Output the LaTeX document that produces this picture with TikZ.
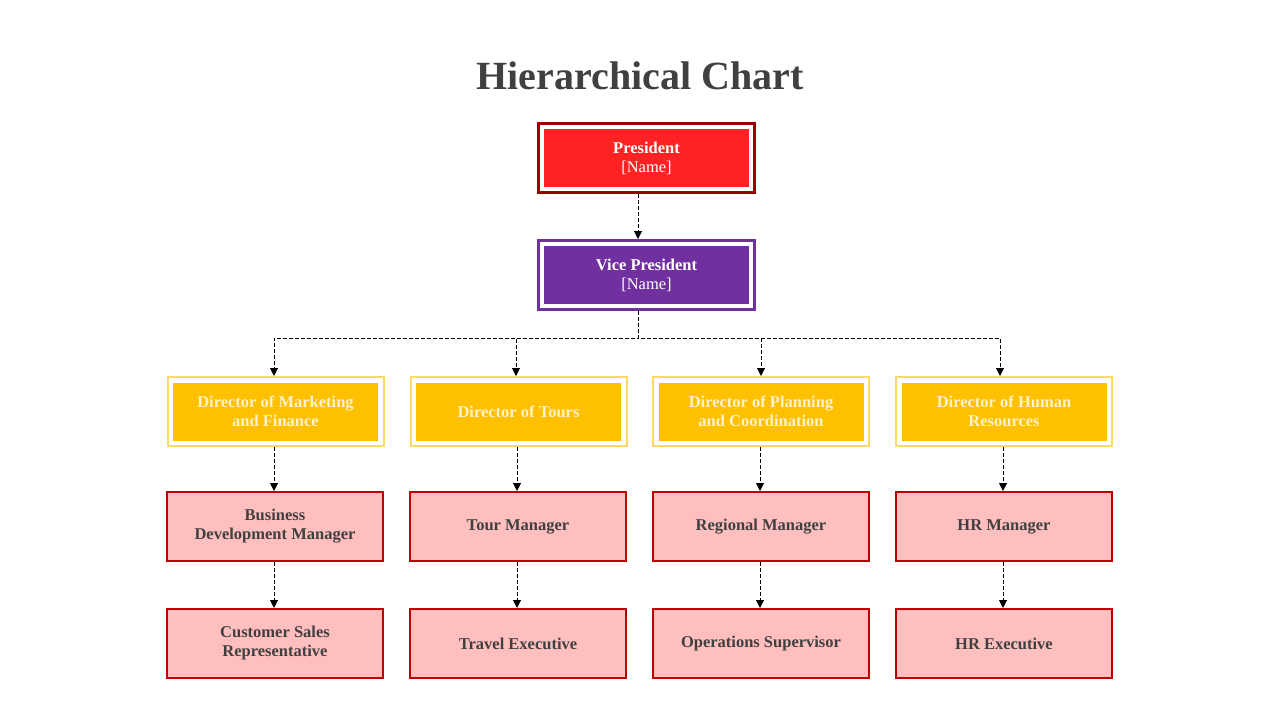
\documentclass[tikz,border=0pt]{standalone}
\usepackage{fontspec}
\setmainfont{Liberation Serif}
\usetikzlibrary{arrows.meta,calc}
\definecolor{titlegray}{HTML}{404040}
\definecolor{presred}{HTML}{FF2222}
\definecolor{presframe}{HTML}{990000}
\definecolor{vppurple}{HTML}{7030A0}
\definecolor{dirfill}{HTML}{FFC000}
\definecolor{dirframe}{HTML}{FFD966}
\definecolor{staffill}{HTML}{FFBFBF}
\definecolor{staffborder}{HTML}{C00000}
\definecolor{dirtext}{HTML}{FFF2CC}
\begin{document}
\begin{tikzpicture}[x=1pt,y=-1pt,
  boxfont/.style={font=\fontsize{16.5}{19}\selectfont},
  framed/.style 2 args={draw=#1, fill=white, line width=3pt,
    minimum width=216pt, minimum height=69pt, inner sep=0pt, align=center,
    path picture={\fill[#2] ([shift={(5.5pt,5.5pt)}]path picture bounding box.south west)
      rectangle ([shift={(-5.5pt,-5.5pt)}]path picture bounding box.north east);}},
  topbox/.style 2 args={framed={#1}{#2}, boxfont, text=white},
  dirbox/.style={framed={dirframe}{dirfill}, line width=2pt, boxfont, text=dirtext},
  staffbox/.style={draw=staffborder, fill=staffill, line width=2pt,
    minimum width=216pt, minimum height=69pt, inner sep=0pt, align=center,
    boxfont, text=titlegray},
  link/.style={draw=black, line width=1pt, dash pattern=on 4pt off 2pt,
    -{Triangle[length=8pt,width=8pt]}}
]
\fill[white] (0,0) rectangle (1280,720);
\useasboundingbox (0,0) rectangle (1280,720);

\node[anchor=base, font=\bfseries\fontsize{40}{48}\selectfont, text=titlegray] (title) at (640,89) {Hierarchical Chart};

\node[topbox={presframe}{presred}] (pres) at (646.5,158) {\textbf{President}\\{[Name]}};
\node[topbox={vppurple}{vppurple}] (vp) at (646.5,275) {\textbf{Vice President}\\{[Name]}};

\node[dirbox] (d1) at (275.5,411.5) {\textbf{Director of Marketing}\\\textbf{and Finance}};
\node[dirbox] (d2) at (518.5,411.5) {\textbf{Director of Tours}};
\node[dirbox] (d3) at (761,411.5) {\textbf{Director of Planning}\\\textbf{and Coordination}};
\node[dirbox] (d4) at (1004,411.5) {\textbf{Director of Human}\\\textbf{Resources}};

\node[staffbox] (s1) at (275,526.5) {\textbf{Business}\\\textbf{Development Manager}};
\node[staffbox] (s2) at (518,526.5) {\textbf{Tour Manager}};
\node[staffbox] (s3) at (761,526.5) {\textbf{Regional Manager}};
\node[staffbox] (s4) at (1004,526.5) {\textbf{HR Manager}};

\node[staffbox] (t1) at (275,643.5) {\textbf{Customer Sales}\\\textbf{Representative}};
\node[staffbox] (t2) at (518,643.5) {\textbf{Travel Executive}};
\node[staffbox] (t3) at (761,643.5) {\textbf{Operations Supervisor}};
\node[staffbox] (t4) at (1004,643.5) {\textbf{HR Executive}};

\coordinate (bus) at (638,338);

\draw[link] ([xshift=-8.5pt]pres.south) -- ([xshift=-8.5pt]vp.north);
\draw[link] ([xshift=-8.5pt]vp.south) -- (bus) -| ([xshift=-1.5pt]d1.north);
\draw[link] ([xshift=-8.5pt]vp.south) -- (bus) -| ([xshift=-2.5pt]d2.north);
\draw[link] ([xshift=-8.5pt]vp.south) -- (bus) -| (d3.north);
\draw[link] ([xshift=-8.5pt]vp.south) -- (bus) -| ([xshift=-4pt]d4.north);

\foreach \i in {1,2,3,4}{
  \draw[link] ([xshift=-1pt]d\i.south -| s\i.north) -- ([xshift=-1pt]s\i.north);
  \draw[link] ([xshift=-1pt]s\i.south) -- ([xshift=-1pt]t\i.north);
}
\end{tikzpicture}
\end{document}
